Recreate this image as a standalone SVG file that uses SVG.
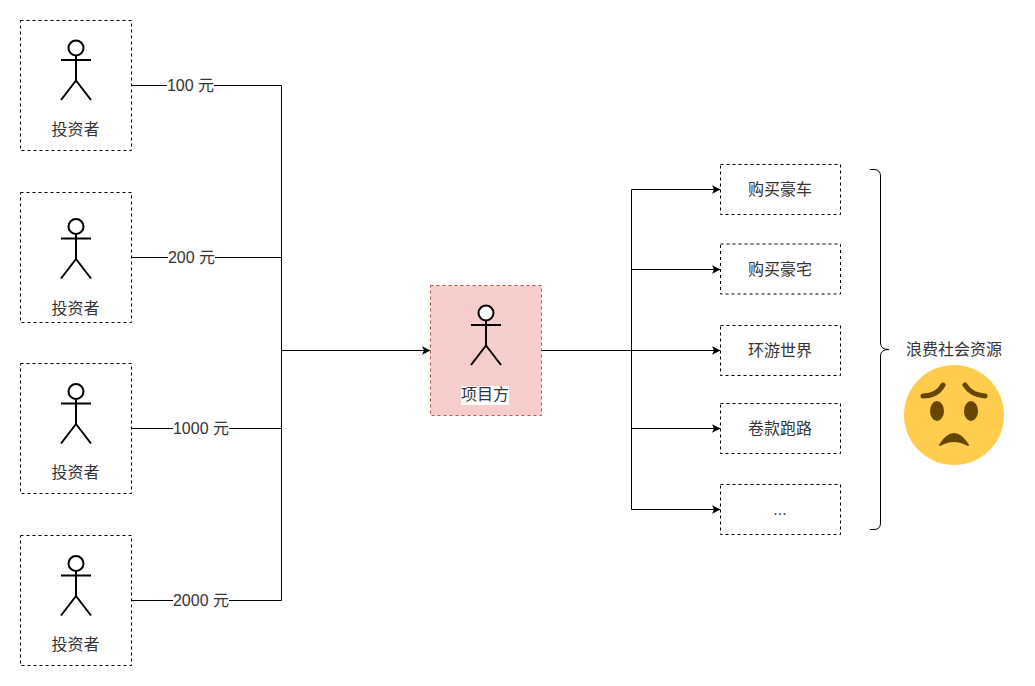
<svg xmlns="http://www.w3.org/2000/svg" width="1035" height="686" viewBox="0 0 1035 686">
<style>
.box{fill:#fff;stroke:#000;stroke-dasharray:3 3}
.head{fill:#fff;stroke:#000;stroke-width:2}
.body{fill:none;stroke:#000;stroke-width:2}
.t{font-family:"Liberation Sans","Noto Sans CJK SC",sans-serif;font-size:16px;fill:#333;text-anchor:middle}
.c{fill:none;stroke:#000;stroke-width:1}
</style>
<defs>
<marker id="a" markerUnits="userSpaceOnUse" markerWidth="10" markerHeight="10" refX="9" refY="5" orient="auto"><path d="M0.500 0.800L9 5L0.500 9.200L2.500 5Z" fill="#000"/></marker>
<g id="actor"><circle class="head" cx="0" cy="8" r="7.5"/><path class="body" d="M0 15.5V40.500M-15 20H15M0 40.500L-15 60M0 40.500L15 60"/></g>
</defs>
<rect width="1035" height="686" fill="#fff"/>
<g id="connectors">
<path class="c" d="M131.5 85.5H281.5V350.5"/>
<path class="c" d="M131.5 257.5H281.5"/>
<path class="c" d="M131.5 428.5H281.5"/>
<path class="c" d="M131.5 600.5H281.5V350.5"/>
<path class="c" marker-end="url(#a)" d="M281.5 350.5H430.5"/>
<path class="c" marker-end="url(#a)" d="M541.5 350.5H720.5"/>
<path class="c" marker-end="url(#a)" d="M631.5 350.5V189.5H720.5"/>
<path class="c" marker-end="url(#a)" d="M631.5 269.5H720.5"/>
<path class="c" marker-end="url(#a)" d="M631.5 428.5H720.5"/>
<path class="c" marker-end="url(#a)" d="M631.5 350.5V509.5H720.5"/>
<g><rect x="167" y="76" width="47" height="18" fill="#fff"/><text class="t" x="190.500" y="91">100 元</text></g>
<g><rect x="168" y="248" width="47" height="18" fill="#fff"/><text class="t" x="191.500" y="263">200 元</text></g>
<g><rect x="173" y="419" width="56" height="18" fill="#fff"/><text class="t" x="201" y="434">1000 元</text></g>
<g><rect x="173" y="591" width="56" height="18" fill="#fff"/><text class="t" x="201" y="606">2000 元</text></g>
</g>
<g id="investor1"><rect class="box" x="20.500" y="20.500" width="111" height="130"/><use href="#actor" x="76" y="40"/><text class="t" x="75.500" y="135">投资者</text></g>
<g id="investor2"><rect class="box" x="20.500" y="192.500" width="111" height="130"/><use href="#actor" x="76" y="218.500"/><text class="t" x="75.500" y="314">投资者</text></g>
<g id="investor3"><rect class="box" x="20.500" y="363.500" width="111" height="130"/><use href="#actor" x="76" y="383.500"/><text class="t" x="75.500" y="478">投资者</text></g>
<g id="investor4"><rect class="box" x="20.500" y="535.500" width="111" height="130"/><use href="#actor" x="76" y="555.500"/><text class="t" x="75.500" y="650">投资者</text></g>
<g id="project"><rect x="430.500" y="285.500" width="111" height="130" fill="#f8cecc" stroke="#b85450" stroke-dasharray="3 3"/><use href="#actor" x="486" y="305"/><rect x="461" y="386" width="48" height="19" fill="#fff"/><text class="t" x="485" y="400">项目方</text></g>
<g id="use1"><rect class="box" x="720.500" y="164.500" width="120" height="50"/><text class="t" x="780" y="195">购买豪车</text></g>
<g id="use2"><rect class="box" x="720.500" y="244" width="120" height="50"/><text class="t" x="780" y="275">购买豪宅</text></g>
<g id="use3"><rect class="box" x="720.500" y="325.500" width="120" height="50"/><text class="t" x="780" y="356">环游世界</text></g>
<g id="use4"><rect class="box" x="720.500" y="403.500" width="120" height="50"/><text class="t" x="780" y="434">卷款跑路</text></g>
<g id="use5"><rect class="box" x="720.500" y="484.500" width="120" height="50"/><text class="t" x="780" y="515">...</text></g>
<g id="brace"><path class="c" d="M870 169.500H874Q880.500 169.500 880.500 176V343Q880.500 349.500 889 349.500Q880.500 349.500 880.500 356V523Q880.500 529.500 874 529.500H870"/></g>
<g id="waste"><text class="t" x="954" y="355">浪费社会资源</text></g>
<g id="emoji">
<circle cx="954" cy="415" r="50" fill="#ffcc4d"/>
<path d="M923 396Q937 396 943 385M965 385Q971 395 985 396" fill="none" stroke="#664500" stroke-width="5" stroke-linecap="round"/>
<ellipse cx="937" cy="411" rx="7" ry="10" fill="#664500"/><ellipse cx="971" cy="411" rx="7" ry="10" fill="#664500"/>
<path d="M940 445Q954 423 968 445Q954 437 940 445Z" fill="#664500" stroke="#664500" stroke-width="2" stroke-linejoin="round"/>
</g>
</svg>
